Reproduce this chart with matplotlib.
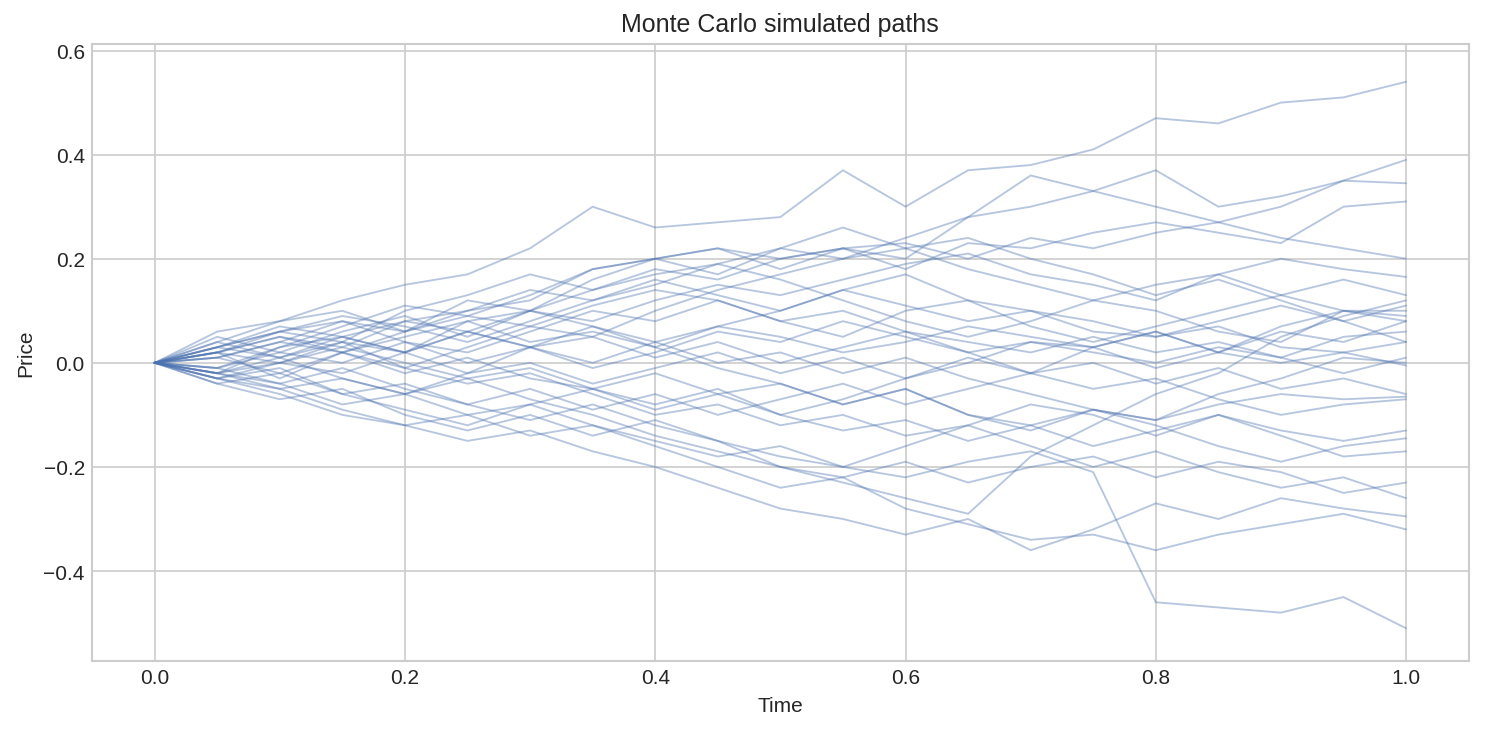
import matplotlib
matplotlib.use("Agg")
import matplotlib.pyplot as plt

# time grid (read coarsely every 0.05)
time = [0.0, 0.05, 0.10, 0.15, 0.20, 0.25, 0.30, 0.35, 0.40, 0.45, 0.50,
        0.55, 0.60, 0.65, 0.70, 0.75, 0.80, 0.85, 0.90, 0.95, 1.00]

path_01 = [0, 0.06, 0.08, 0.12, 0.15, 0.17, 0.22, 0.30, 0.26, 0.27, 0.28, 0.37, 0.30, 0.37, 0.38, 0.41, 0.47, 0.46, 0.50, 0.51, 0.54]
path_02 = [0, 0.02, 0.05, 0.03, 0.08, 0.10, 0.12, 0.18, 0.20, 0.22, 0.20, 0.22, 0.20, 0.28, 0.36, 0.33, 0.37, 0.30, 0.32, 0.35, 0.39]
path_03 = [0, -0.02, 0.03, 0.05, 0.02, 0.08, 0.10, 0.14, 0.17, 0.19, 0.22, 0.20, 0.24, 0.28, 0.30, 0.33, 0.30, 0.27, 0.30, 0.35, 0.345]
path_04 = [0, 0.03, 0.06, 0.04, 0.10, 0.13, 0.17, 0.14, 0.18, 0.16, 0.20, 0.22, 0.18, 0.23, 0.22, 0.25, 0.27, 0.25, 0.23, 0.30, 0.31]
path_05 = [0, 0.04, 0.08, 0.10, 0.06, 0.12, 0.10, 0.16, 0.20, 0.22, 0.18, 0.22, 0.23, 0.20, 0.24, 0.22, 0.25, 0.27, 0.24, 0.22, 0.20]
path_06 = [0, -0.01, 0.02, 0.06, 0.09, 0.05, 0.10, 0.08, 0.12, 0.15, 0.13, 0.16, 0.19, 0.21, 0.17, 0.15, 0.12, 0.17, 0.20, 0.18, 0.165]
path_07 = [0, 0.05, 0.02, 0.00, 0.04, 0.02, 0.06, 0.10, 0.08, 0.12, 0.08, 0.05, 0.10, 0.12, 0.07, 0.04, 0.07, 0.10, 0.13, 0.16, 0.13]
path_08 = [0, 0.02, -0.03, 0.02, 0.05, 0.08, 0.04, 0.06, 0.03, 0.07, 0.10, 0.14, 0.11, 0.08, 0.10, 0.06, 0.05, 0.08, 0.11, 0.08, 0.11]
path_09 = [0, -0.02, 0.01, 0.04, -0.01, 0.03, 0.07, 0.05, 0.10, 0.14, 0.17, 0.20, 0.22, 0.18, 0.15, 0.12, 0.10, 0.06, 0.04, 0.10, 0.09]
path_10 = [0, 0.03, 0.06, 0.08, 0.04, 0.00, 0.03, -0.01, 0.02, 0.06, 0.04, 0.08, 0.05, 0.02, 0.04, 0.03, 0.06, 0.02, 0.07, 0.10, 0.08]
path_11 = [0, -0.03, 0.00, -0.02, 0.02, -0.02, 0.03, 0.05, 0.01, 0.04, 0.00, 0.03, 0.06, 0.04, 0.02, 0.05, 0.02, 0.04, 0.01, 0.05, 0.06]
path_12 = [0, 0.01, 0.04, 0.08, 0.06, 0.10, 0.14, 0.12, 0.16, 0.13, 0.10, 0.14, 0.17, 0.12, 0.10, 0.08, 0.05, 0.07, 0.03, 0.02, 0.04]
path_13 = [0, -0.02, -0.05, -0.03, -0.06, -0.02, 0.00, -0.04, -0.01, 0.02, -0.02, 0.01, -0.03, 0.00, 0.04, 0.02, 0.00, 0.03, 0.01, -0.02, 0.01]
path_14 = [0, 0.02, 0.00, 0.04, 0.02, 0.06, 0.03, 0.00, 0.04, 0.07, 0.05, 0.02, 0.04, 0.07, 0.05, 0.03, 0.06, 0.02, 0.00, 0.02, -0.005]
path_15 = [0, -0.01, -0.04, -0.01, -0.05, -0.08, -0.05, -0.09, -0.06, -0.10, -0.07, -0.04, -0.08, -0.05, -0.02, 0.00, -0.04, -0.01, -0.05, -0.03, -0.06]
path_16 = [0, 0.03, 0.01, 0.05, 0.08, 0.06, 0.03, 0.07, 0.04, 0.00, 0.02, -0.02, 0.01, -0.03, -0.06, -0.09, -0.11, -0.08, -0.06, -0.07, -0.065]
path_17 = [0, -0.03, -0.01, -0.06, -0.04, -0.08, -0.11, -0.08, -0.12, -0.15, -0.18, -0.20, -0.16, -0.12, -0.08, -0.10, -0.14, -0.10, -0.13, -0.15, -0.13]
path_18 = [0, 0.02, 0.05, 0.02, -0.02, 0.01, -0.03, -0.05, -0.02, -0.06, -0.04, -0.08, -0.05, -0.10, -0.12, -0.09, -0.12, -0.16, -0.19, -0.16, -0.145]
path_19 = [0, -0.02, 0.00, 0.03, 0.00, -0.03, -0.01, -0.05, -0.08, -0.05, -0.10, -0.13, -0.11, -0.15, -0.12, -0.16, -0.13, -0.10, -0.14, -0.18, -0.17]
path_20 = [0, -0.04, -0.07, -0.05, -0.10, -0.13, -0.10, -0.14, -0.11, -0.15, -0.20, -0.22, -0.19, -0.23, -0.20, -0.18, -0.22, -0.19, -0.21, -0.25, -0.23]
path_21 = [0, 0.01, -0.02, 0.02, -0.01, -0.04, -0.02, -0.06, -0.10, -0.08, -0.12, -0.10, -0.14, -0.12, -0.16, -0.20, -0.17, -0.21, -0.24, -0.22, -0.26]
path_22 = [0, -0.03, -0.06, -0.10, -0.12, -0.15, -0.13, -0.17, -0.20, -0.24, -0.28, -0.30, -0.33, -0.30, -0.36, -0.32, -0.27, -0.30, -0.26, -0.28, -0.295]
path_23 = [0, -0.02, -0.04, -0.08, -0.06, -0.10, -0.08, -0.12, -0.16, -0.20, -0.24, -0.22, -0.28, -0.31, -0.34, -0.33, -0.36, -0.33, -0.31, -0.29, -0.32]
path_24 = [0, -0.03, -0.05, -0.09, -0.12, -0.10, -0.14, -0.12, -0.15, -0.18, -0.16, -0.20, -0.22, -0.19, -0.17, -0.21, -0.46, -0.47, -0.48, -0.45, -0.51]
path_25 = [0, 0.04, 0.01, -0.03, -0.06, -0.03, -0.07, -0.10, -0.14, -0.17, -0.20, -0.23, -0.26, -0.29, -0.18, -0.12, -0.06, -0.02, 0.05, 0.09, 0.12]
path_26 = [0, 0.02, 0.06, 0.09, 0.07, 0.04, 0.08, 0.12, 0.15, 0.19, 0.16, 0.12, 0.08, 0.05, 0.08, 0.12, 0.15, 0.17, 0.13, 0.10, 0.10]
path_27 = [0, -0.04, -0.02, -0.06, -0.09, -0.12, -0.08, -0.05, -0.09, -0.06, -0.10, -0.07, -0.03, 0.01, -0.02, 0.03, -0.01, 0.02, 0.06, 0.04, 0.08]
path_28 = [0, 0.03, 0.07, 0.05, 0.02, 0.06, 0.10, 0.07, 0.03, -0.01, -0.04, -0.08, -0.05, -0.10, -0.13, -0.09, -0.11, -0.06, -0.03, 0.01, 0.00]
path_29 = [0, 0.01, 0.04, 0.02, 0.06, 0.09, 0.07, 0.11, 0.14, 0.12, 0.08, 0.10, 0.06, 0.02, -0.02, -0.05, -0.03, -0.07, -0.10, -0.08, -0.07]
path_30 = [0, -0.01, 0.03, 0.07, 0.11, 0.09, 0.13, 0.18, 0.20, 0.17, 0.22, 0.26, 0.22, 0.24, 0.20, 0.17, 0.13, 0.16, 0.12, 0.08, 0.04]

paths = [path_01, path_02, path_03, path_04, path_05, path_06, path_07, path_08,
         path_09, path_10, path_11, path_12, path_13, path_14, path_15, path_16,
         path_17, path_18, path_19, path_20, path_21, path_22, path_23, path_24,
         path_25, path_26, path_27, path_28, path_29, path_30]

plt.style.use("seaborn-v0_8-whitegrid")
plt.rcParams["font.family"] = ["Liberation Sans", "DejaVu Sans"]

fig = plt.figure(figsize=(9.9, 4.8933), dpi=150)
ax = fig.add_axes([0.062, 0.098, 0.927, 0.841])

for p in paths:
    ax.plot(time, p, color="#4C72B0", alpha=0.4, linewidth=0.9)

ax.set_ylim(-0.573, 0.613)
ax.set_title("Monte Carlo simulated paths", fontsize=12)
ax.set_xlabel("Time", fontsize=10)
ax.set_ylabel("Price", fontsize=10)
ax.tick_params(labelsize=10)
for s in ax.spines.values():
    s.set_visible(True)
    s.set_color("#cccccc")

fig.savefig("out.png", dpi=150)
